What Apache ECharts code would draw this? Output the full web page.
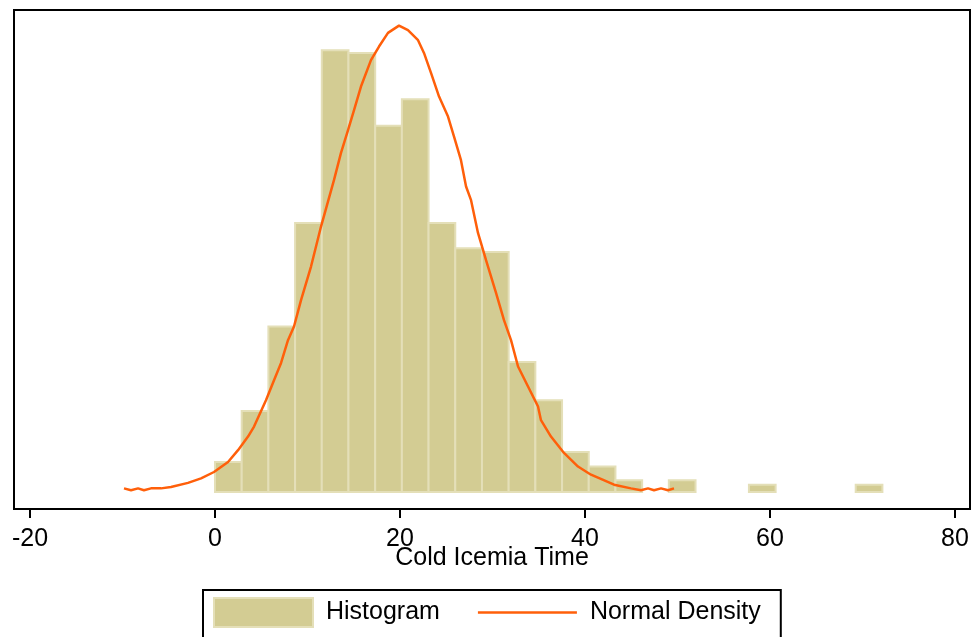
<!DOCTYPE html>
<html>
<head>
<meta charset="utf-8">
<script src="https://cdn.jsdelivr.net/npm/echarts@6/dist/echarts.min.js"></script>
<style>
html,body{margin:0;padding:0;background:#fff}
#main{width:974px;height:637px}
</style>
</head>
<body>
<div id="main"></div>
<script>
// histogram: bins start at 0, each 2.886 wide (density)
var binStart = 0;
var binWidth = 2.886;
var binDensity = [0.0033, 0.0089, 0.0182, 0.0296, 0.0486, 0.0483, 0.0403, 0.0432, 0.0296, 0.0268,
                  0.0264, 0.0143, 0.0101, 0.0044, 0.0028, 0.0013, 0, 0.0013, 0, 0,
                  0.0008, 0, 0, 0, 0.0008];

// normal density curve
var curveX = [-9.84, -9.08, -8.32, -7.68, -6.92, -5.84, -4.76, -2.92, -1.51, -0.11,
              1.41, 2.49, 3.57, 4.22, 5.51, 6.38, 7.14, 7.89, 8.54, 9.30,
              10.38, 11.46, 12.86, 13.62, 14.38, 15.03, 15.78, 16.86, 17.73, 18.70,
              19.89, 20.86, 21.95, 22.59, 23.35, 24.22, 25.19, 25.84, 26.59, 27.14,
              27.68, 28.43, 29.30, 30.38, 31.24, 32.00, 32.76, 33.84, 34.92, 35.24,
              36.32, 37.73, 39.24, 40.65, 43.14, 44.97, 46.05, 46.81, 47.46, 48.22,
              48.97, 49.62];
var curveY = [0.0004, 0.0002, 0.0004, 0.0002, 0.0004, 0.0004, 0.00055, 0.0010, 0.0015, 0.0022,
              0.0033, 0.0046, 0.0061, 0.0072, 0.0101, 0.0123, 0.0142, 0.0167, 0.0182, 0.0211,
              0.0248, 0.0292, 0.0343, 0.0373, 0.0398, 0.0420, 0.0446, 0.0475, 0.0490, 0.0505,
              0.0513, 0.0508, 0.0497, 0.0483, 0.0461, 0.0435, 0.0413, 0.0391, 0.0365, 0.0336,
              0.0321, 0.0285, 0.0255, 0.0219, 0.0189, 0.0167, 0.0138, 0.0116, 0.0094, 0.0079,
              0.0061, 0.0043, 0.0028, 0.0019, 0.0008, 0.0004, 0.0002, 0.0004, 0.0002, 0.0004,
              0.0002, 0.0004];

var xTicks = [-20, 0, 20, 40, 60, 80];

var barFill = '#d3cc93';
var barEdge = '#e4dfb8';
var lineColor = '#ff5f0a';
var fontFam = 'Liberation Sans, Arial, sans-serif';

var histData = [];
for (var i = 0; i < binDensity.length; i++) {
	histData.push([binStart + i * binWidth, binStart + (i + 1) * binWidth, binDensity[i]]);
}
var curveData = [];
for (var j = 0; j < curveX.length; j++) {
	curveData.push([curveX[j], curveY[j]]);
}

var chart = echarts.init(document.getElementById('main'));
chart.setOption({
	animation: false,
	grid: {
		left: 14, right: 4, top: 10, bottom: 128,
		show: true, borderColor: '#000', borderWidth: 2, backgroundColor: '#fff'
	},
	xAxis: {
		type: 'value',
		min: -21.73, max: 81.62,
		name: 'Cold Icemia Time',
		nameLocation: 'middle',
		nameGap: 37,
		nameMoveOverlap: false,
		nameTextStyle: { color: '#000', fontSize: 25, fontFamily: fontFam },
		axisLine: { show: true, onZero: false, lineStyle: { color: '#000', width: 2 } },
		axisTick: { show: true, length: 9, customValues: xTicks, lineStyle: { color: '#000', width: 2 } },
		axisLabel: { customValues: xTicks, color: '#000', fontSize: 25, fontFamily: fontFam, margin: 18 },
		splitLine: { show: false }
	},
	yAxis: {
		type: 'value',
		min: -0.00187, max: 0.05302,
		show: false,
		splitLine: { show: false }
	},
	legend: {
		left: 203, top: 590,
		orient: 'horizontal',
		borderColor: '#000', borderWidth: 2,
		padding: [7, 20, 40, 10],
		itemWidth: 99, itemHeight: 29,
		itemGap: 38,
		textStyle: { color: '#000', fontSize: 25, fontFamily: fontFam, padding: [0, 0, 0, 8] },
		data: [
			{ name: 'Histogram', icon: 'rect', itemStyle: { color: barFill, borderColor: barEdge, borderWidth: 2 } },
			{ name: 'Normal Density', icon: 'path://M0,0 H96 V2.5 H0 Z', itemStyle: { color: lineColor, borderWidth: 0 } }
		]
	},
	series: [
		{
			name: 'Histogram',
			type: 'custom',
			itemStyle: { color: barFill, borderColor: barEdge, borderWidth: 2 },
			renderItem: function (params, api) {
				var h = api.value(2);
				if (!h) return null;
				var p0 = api.coord([api.value(0), h]);
				var p1 = api.coord([api.value(1), 0]);
				return {
					type: 'rect',
					shape: { x: p0[0], y: p0[1], width: p1[0] - p0[0], height: p1[1] - p0[1] },
					style: { fill: barFill, stroke: barEdge, lineWidth: 2 }
				};
			},
			encode: { x: [0, 1], y: 2 },
			data: histData,
			z: 2
		},
		{
			name: 'Normal Density',
			type: 'line',
			data: curveData,
			symbol: 'none',
			smooth: false,
			lineStyle: { color: lineColor, width: 2.5 },
			itemStyle: { color: lineColor },
			z: 3
		}
	]
});
</script>
</body>
</html>
